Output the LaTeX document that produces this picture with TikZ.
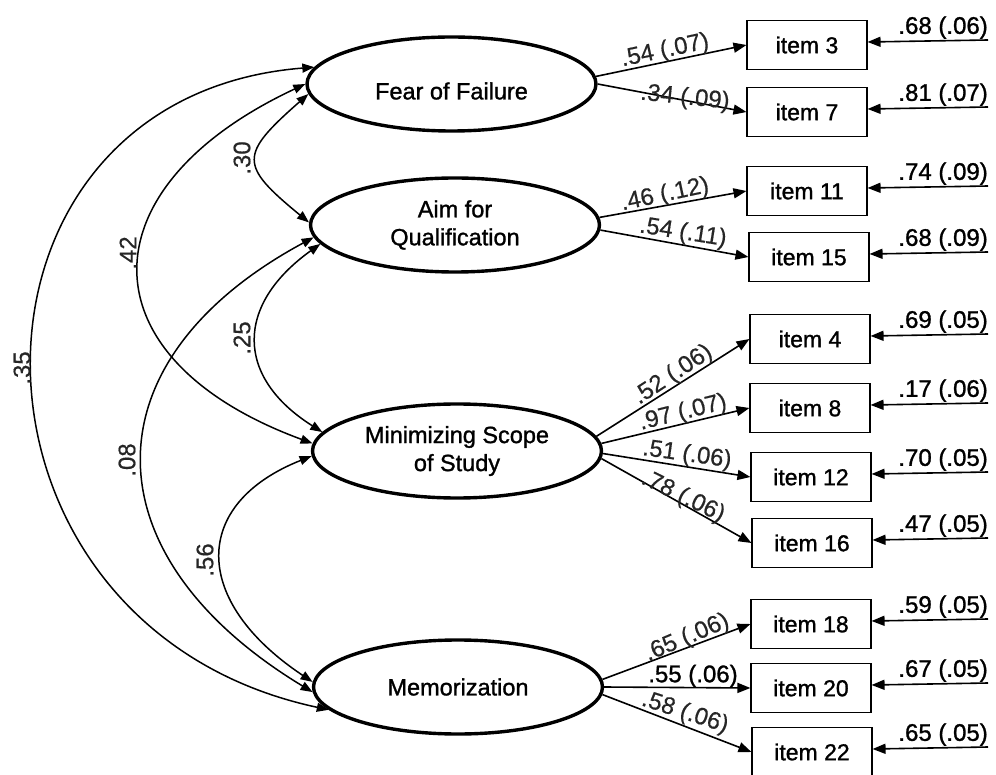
\documentclass[tikz,border=0pt]{standalone}
\usepackage{fontspec}
\setmainfont{Liberation Sans}
\newfontfamily\heavyfont{Liberation Sans}[FakeBold=1.2]
\newfontfamily\midfont{Liberation Sans}[FakeBold=0.5]
\usetikzlibrary{arrows.meta,shapes.geometric}
\begin{document}
\begin{tikzpicture}[x=1pt,y=-1pt,
  lat/.style={ellipse,draw,line width=3.4pt,minimum width=289pt,minimum height=94pt,inner sep=0pt,font=\heavyfont\fontsize{23.5}{28}\selectfont,align=center},
  obs/.style={rectangle,draw,line width=1.1pt,minimum width=120pt,minimum height=49pt,inner sep=0pt,font=\heavyfont\fontsize{23}{26}\selectfont},
  cov/.style={line width=1.5pt,{Triangle[length=12pt,width=9pt]}-{Triangle[length=12pt,width=9pt]}},
  load/.style={line width=1.6pt,-{Triangle[length=13pt,width=10pt]}},
  lbl/.style={font=\heavyfont\fontsize{24}{26}\selectfont,inner sep=0pt},
  glbl/.style={font=\midfont\fontsize{24}{26}\selectfont,inner sep=0pt,text=black!85},
]
\useasboundingbox (0,0) rectangle (996,775);

% latent variables
\node[lat] (F) at (451.5,84) {};
\node[lbl,font=\heavyfont\fontsize{23.5}{28}\selectfont] (Ft) at (451.5,91) {Fear of Failure};
\node[lat] (A) at (455,225) {Aim for\\Qualification};
\node[lat] (M) at (457,451) {Minimizing Scope\\of Study};
\node[lat] (R) at (458,687) {Memorization};

% observed items
\node[obs] (i3)  at (807,45)  {item 3};
\node[obs] (i7)  at (807,112) {item 7};
\node[obs] (i11) at (807,191) {item 11};
\node[obs] (i15) at (809,257) {item 15};
\node[obs] (i4)  at (810,339) {item 4};
\node[obs] (i8)  at (810,408) {item 8};
\node[obs] (i12) at (811,477) {item 12};
\node[obs] (i16) at (812,543) {item 16};
\node[obs] (i18) at (811,624) {item 18};
\node[obs] (i20) at (811,688) {item 20};
\node[obs] (i22) at (812,752) {item 22};

% loadings
\draw[load] (F.3)  -- (i3.west);
\draw[load] (F.0)  -- (i7.west);
\draw[load] (A.3)  -- (i11.west);
\draw[load] (A.-2) -- (i15.west);
\draw[load] (M.6)  -- (i4.west);
\draw[load] (M.3)  -- (i8.west);
\draw[load] (M.-1) -- (i12.west);
\draw[load] (M.-3) -- (i16.west);
\draw[load] (R.3)  -- (i18.west);
\draw[load] (R.0)  -- (i20.west);
\draw[load] (R.-3) -- (i22.west);

% loading labels
\node[glbl,rotate=12]  (l3)  at (665,51)  {.54 (.07)};
\node[glbl,rotate=-6]  (l7)  at (685,98)  {.34 (.09)};
\node[glbl,rotate=12]  (l11) at (665,195) {.46 (.12)};
\node[glbl,rotate=-9]  (l15) at (683,233) {.54 (.11)};
\node[glbl,rotate=33.5](l4)  at (673,375) {.52 (.06)};
\node[glbl,rotate=14]  (l8)  at (683,413) {.97 (.07)};
\node[glbl,rotate=-8]  (l12) at (687,455) {.51 (.06)};
\node[glbl,rotate=-26] (l16) at (683,497) {.78 (.06)};
\node[glbl,rotate=23]  (l18) at (687,638) {.65 (.06)};
\node[lbl]             (l20) at (693,676) {.55 (.06)};
\node[glbl,rotate=-18] (l22) at (685,713) {.58 (.06)};

% residuals
\foreach \b/\y/\t in {i3/40/.68 (.06), i7/107/.81 (.07), i11/186/.74 (.09), i15/252/.68 (.09),
                      i4/334/.69 (.05), i8/403/.17 (.06), i12/472/.70 (.05), i16/538/.47 (.05),
                      i18/619/.59 (.05), i20/683/.67 (.05), i22/747/.65 (.05)}{
  \coordinate (e\b) at (988,\y);
  \draw[load] (e\b) -- ([yshift=3pt]\b.east);
  \node[lbl,anchor=south east] (t\b) at ([yshift=1pt]e\b) {\t};
}

% covariances
\draw[cov] (F.173) .. controls (-63,97) and (-63,626) .. (R.190);
\draw[cov] (F.180) .. controls (83,188) and (83,359) .. (M.177);
\draw[cov] (F.184) .. controls (239,155) and (239,165) .. (A.179);
\draw[cov] (A.188) .. controls (235,305) and (235,377) .. (M.172);
\draw[cov] (A.185) .. controls (86,360) and (86,555) .. (R.182);
\draw[cov] (M.182) .. controls (191,504) and (191,601) .. (R.178);

% covariance labels
\node[glbl,rotate=90] (c30) at (242,158) {.30};
\node[glbl,rotate=90] (c42) at (128,253) {.42};
\node[glbl,rotate=90] (c35) at (22,368)  {.35};
\node[glbl,rotate=90] (c25) at (242,338) {.25};
\node[glbl,rotate=90] (c08) at (127,460) {.08};
\node[glbl,rotate=90] (c56) at (205,560) {.56};
\end{tikzpicture}
\end{document}
